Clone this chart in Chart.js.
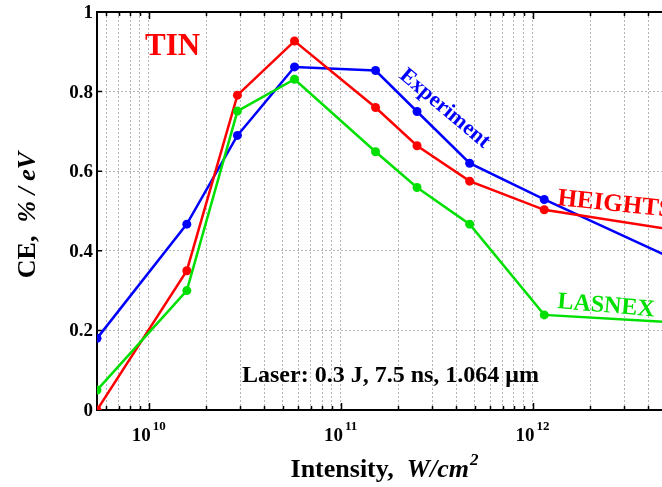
<!DOCTYPE html>
<html>
<head>
<meta charset="utf-8">
<script src="https://cdn.jsdelivr.net/npm/chart.js@4/dist/chart.umd.min.js"></script>
<style>
  html, body { margin: 0; padding: 0; background: #fff; overflow: hidden; }
  #wrap { width: 667px; height: 487px; }
</style>
</head>
<body>
<div id="wrap"><canvas id="chart"></canvas></div>
<script>
// Intensity (W/cm^2) for each simulated/measured point
const intensity = [5.38e9, 1.58e10, 2.9e10, 5.75e10, 1.52e11, 2.5e11, 4.7e11, 1.15e12, 5e12];
// CE, %/eV
const experiment = [0.18, 0.467, 0.69, 0.862, 0.853, 0.75, 0.62, 0.529, 0.387];
const heights = [0.0, 0.35, 0.791, 0.927, 0.76, 0.664, 0.575, 0.503, 0.455];
const lasnex = [0.05, 0.30, 0.751, 0.831, 0.649, 0.559, 0.467, 0.239, 0.221];

const xTicks = [6e9, 7e9, 8e9, 9e9,
  1e10, 2e10, 3e10, 4e10, 5e10, 6e10, 7e10, 8e10, 9e10,
  1e11, 2e11, 3e11, 4e11, 5e11, 6e11, 7e11, 8e11, 9e11,
  1e12, 2e12, 3e12, 4e12];
const xMajor = [1e10, 1e11, 1e12];
const yTicks = [0, 0.2, 0.4, 0.6, 0.8, 1];
const yLabels = ["0", "0.2", "0.4", "0.6", "0.8", "1"];

const SERIF = '"Liberation Serif", "Times New Roman", serif';
const RED = "#ff0000", BLUE = "#0000ff", GREEN = "#00e000";

function series(ys) {
  return intensity.map((x, i) => ({ x: x, y: ys[i] }));
}

function textAt(ctx, str, x, y, font, color, angle, align) {
  ctx.save();
  ctx.translate(x, y);
  ctx.rotate((angle || 0) * Math.PI / 180);
  ctx.font = font;
  ctx.fillStyle = color;
  ctx.textAlign = align || "left";
  ctx.textBaseline = "alphabetic";
  ctx.fillText(str, 0, 0);
  ctx.restore();
}

const framePlugin = {
  id: "frame",
  beforeDatasetsDraw(chart) {
    const { ctx, chartArea: a, scales: { x, y } } = chart;
    ctx.save();
    ctx.strokeStyle = "#000";
    ctx.lineWidth = 2;
    ctx.beginPath();
    ctx.moveTo(a.left, a.top);
    ctx.lineTo(a.right + 2, a.top);
    ctx.moveTo(a.left, a.top - 1);
    ctx.lineTo(a.left, a.bottom + 1);
    ctx.moveTo(a.left - 1, a.bottom);
    ctx.lineTo(a.right + 2, a.bottom);
    ctx.stroke();
    ctx.lineWidth = 1.5;
    ctx.beginPath();
    xTicks.forEach(v => {
      const px = Math.round(x.getPixelForValue(v)) + 0.5;
      const len = xMajor.includes(v) ? 7 : 4;
      ctx.moveTo(px, a.bottom);
      ctx.lineTo(px, a.bottom - len);
      ctx.moveTo(px, a.top);
      ctx.lineTo(px, a.top + len);
    });
    yTicks.forEach(v => {
      const py = y.getPixelForValue(v);
      ctx.moveTo(a.left, py);
      ctx.lineTo(a.left + 5, py);
    });
    ctx.stroke();
    ctx.restore();
  },
  afterDraw(chart) {
    const { ctx, chartArea: a, scales: { x, y } } = chart;
    // y tick labels
    yTicks.forEach((v, i) => {
      ctx.save();
      ctx.font = "bold 19px " + SERIF;
      ctx.fillStyle = "#000";
      ctx.textAlign = "right";
      ctx.textBaseline = "middle";
      ctx.fillText(yLabels[i], a.left - 4, y.getPixelForValue(v) + 1);
      ctx.restore();
    });
    // x tick labels 10^n
    xMajor.forEach(v => {
      const exp = String(Math.round(Math.log10(v)));
      ctx.save();
      ctx.font = "bold 19px " + SERIF;
      const w1 = ctx.measureText("10").width;
      ctx.font = "bold 13px " + SERIF;
      const w2 = ctx.measureText(exp).width;
      const left = x.getPixelForValue(v) - (w1 + w2 + 2) / 2;
      ctx.restore();
      textAt(ctx, "10", left, 441, "bold 19px " + SERIF, "#000");
      textAt(ctx, exp, left + w1 + 2, 430, "bold 13px " + SERIF, "#000");
    });
    // x axis title
    ctx.save();
    const f1 = "bold 26px " + SERIF, f2 = "italic bold 26px " + SERIF, f3 = "italic bold 17px " + SERIF;
    ctx.font = f1; const t1 = "Intensity,  ", wt1 = ctx.measureText(t1).width;
    ctx.font = f2; const t2 = "W/cm", wt2 = ctx.measureText(t2).width;
    ctx.font = f3; const wt3 = ctx.measureText("2").width;
    ctx.restore();
    const tx = 384 - (wt1 + wt2 + wt3) / 2;
    textAt(ctx, t1, tx, 477, f1, "#000");
    textAt(ctx, t2, tx + wt1, 477, f2, "#000");
    textAt(ctx, "2", tx + wt1 + wt2 + 1, 465, f3, "#000");
    // y axis title (rotated)
    ctx.save();
    ctx.font = f1; const y1 = "CE,  ", wy1 = ctx.measureText(y1).width;
    ctx.font = f2; const y2 = "% / eV", wy2 = ctx.measureText(y2).width;
    ctx.restore();
    ctx.save();
    ctx.translate(35, (a.top + a.bottom) / 2 + 4);
    ctx.rotate(-Math.PI / 2);
    const sy = -(wy1 + wy2) / 2;
    ctx.fillStyle = "#000";
    ctx.font = f1; ctx.fillText(y1, sy, 0);
    ctx.font = f2; ctx.fillText(y2, sy + wy1, 0);
    ctx.restore();
    // annotations
    textAt(ctx, "TIN", 145, 55, "bold 31px " + SERIF, RED);
    textAt(ctx, "Experiment", 441, 113, "bold 22px " + SERIF, BLUE, 40, "center");
    textAt(ctx, "HEIGHTS", 557, 205, "bold 25px " + SERIF, RED, 6);
    textAt(ctx, "LASNEX", 557, 308, "bold 24px " + SERIF, GREEN, 5);
    textAt(ctx, "Laser: 0.3 J, 7.5 ns, 1.064 \u03bcm", 242, 382, "bold 24px " + SERIF, "#000");
  }
};

function ds(label, ys, color) {
  return {
    label: label,
    data: series(ys),
    borderColor: color,
    backgroundColor: color,
    borderWidth: 2.5,
    pointRadius: 4.5,
    pointHoverRadius: 4.5,
    pointBorderWidth: 0,
    tension: 0
  };
}

new Chart(document.getElementById("chart").getContext("2d"), {
  type: "line",
  data: {
    datasets: [
      ds("LASNEX", lasnex, GREEN),
      ds("HEIGHTS", heights, RED),
      ds("Experiment", experiment, BLUE)
    ]
  },
  options: {
    responsive: true,
    maintainAspectRatio: false,
    animation: false,
    layout: { padding: { left: 97, top: 12, right: 0, bottom: 77 } },
    plugins: { legend: { display: false }, tooltip: { enabled: false } },
    scales: {
      x: {
        type: "logarithmic",
        min: 5.38e9,
        max: 4.75e12,
        afterBuildTicks: s => { s.ticks = xTicks.map(v => ({ value: v })); },
        ticks: { display: false },
        grid: { color: "#b4b4b4", lineWidth: 1, drawTicks: false },
        border: { display: false, dash: [2, 2] }
      },
      y: {
        type: "linear",
        min: 0,
        max: 1,
        afterBuildTicks: s => { s.ticks = yTicks.map(v => ({ value: v })); },
        ticks: { display: false },
        grid: { color: "#b4b4b4", lineWidth: 1, drawTicks: false },
        border: { display: false, dash: [2, 2] }
      }
    }
  },
  plugins: [framePlugin]
});
</script>
</body>
</html>
